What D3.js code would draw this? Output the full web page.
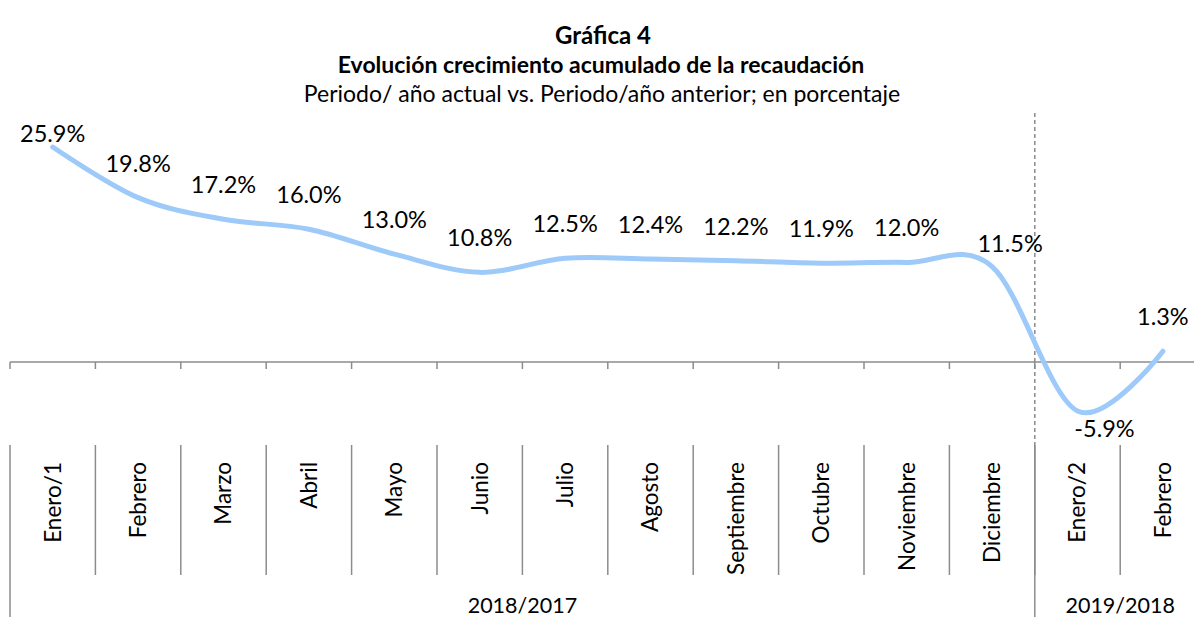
<!DOCTYPE html>
<html>
<head>
<meta charset="utf-8">
<script src="https://cdn.jsdelivr.net/npm/d3@7"></script>
<style>
  body { margin: 0; background: #fff; }
  svg text { font-family: Lato, "Open Sans", sans-serif; fill: #000; }
</style>
</head>
<body>
<div id="wrapper"></div>
<script>
// data
const months = ["Enero/1", "Febrero", "Marzo", "Abril", "Mayo", "Junio", "Julio",
  "Agosto", "Septiembre", "Octubre", "Noviembre", "Diciembre", "Enero/2", "Febrero"];
const growth = [25.9, 19.8, 17.2, 16.0, 13.0, 10.8, 12.5, 12.4, 12.2, 11.9, 12.0, 11.5, -5.9, 1.3];
const periods = ["2018/2017", "2019/2018"];
const periodSizes = [12, 2];
const titleLines = ["Gráfica 4", "Evolución crecimiento acumulado de la recaudación"];
const subtitle = "Periodo/ año actual vs. Periodo/año anterior; en porcentaje";

function drawChart() {
  // 1. dimensions
  const width = 1194;
  const height = 617;
  const step = 85.4;
  let dimensions = {
    left: 10,
    plotTop: 113,
    plotBottom: 445,
    labelTop: 462,
    tickBottom: 575,
  };

  const dataset = months.map((m, i) => ({ key: i, month: m, value: growth[i] }));

  // 2. canvas
  const svg = d3.select("#wrapper")
    .append("svg")
    .attr("width", width)
    .attr("height", height);

  // 3. scales
  const xScale = d3.scaleBand()
    .domain(dataset.map((d) => d.key))
    .range([dimensions.left, dimensions.left + step * months.length]);

  const yScale = d3.scaleLinear()
    .domain([-10, 30])
    .range([dimensions.plotBottom, dimensions.plotTop]);

  const xCenter = (d) => xScale(d.key) + xScale.bandwidth() / 2;

  // titles
  svg.append("text")
    .attr("x", width / 2 + 6).attr("y", 44)
    .attr("text-anchor", "middle")
    .style("font-size", "24px").style("font-weight", 700)
    .text(titleLines[0]);
  svg.append("text")
    .attr("x", width / 2 + 4).attr("y", 73)
    .attr("text-anchor", "middle")
    .style("font-size", "23px").style("font-weight", 700)
    .text(titleLines[1]);
  svg.append("text")
    .attr("x", width / 2 + 5).attr("y", 102)
    .attr("text-anchor", "middle")
    .style("font-size", "23px")
    .text(subtitle);

  // 4. axis at zero
  const axisColor = "#8c8c8c";
  const zeroY = yScale(0);
  const xAxis = d3.axisBottom(xScale).tickSize(0).tickFormat("");
  const axisG = svg.append("g")
    .attr("transform", `translate(0, ${zeroY})`)
    .call(xAxis);
  axisG.select(".domain")
    .attr("d", `M${dimensions.left},0H${width}`)
    .attr("stroke", axisColor)
    .attr("stroke-width", 1.5);

  const boundaries = d3.range(months.length + 1).map((i) => dimensions.left + i * step);

  svg.append("g")
    .selectAll("line")
    .data(boundaries.slice(0, -1))
    .join("line")
    .attr("x1", (d) => d).attr("x2", (d) => d)
    .attr("y1", zeroY).attr("y2", zeroY + 7)
    .attr("stroke", axisColor)
    .attr("stroke-width", 1.5);

  // category separators in the label area
  svg.append("g")
    .selectAll("line")
    .data(boundaries.slice(1, -1))
    .join("line")
    .attr("x1", (d) => d).attr("x2", (d) => d)
    .attr("y1", dimensions.plotBottom).attr("y2", dimensions.tickBottom)
    .attr("stroke", axisColor)
    .attr("stroke-width", 1.5);

  // group separators go down to the bottom
  let groupEdges = [0];
  periodSizes.forEach((n) => groupEdges.push(groupEdges[groupEdges.length - 1] + n));
  svg.append("g")
    .selectAll("line")
    .data(groupEdges.slice(0, -1))
    .join("line")
    .attr("x1", (i) => boundaries[i]).attr("x2", (i) => boundaries[i])
    .attr("y1", dimensions.plotBottom).attr("y2", height)
    .attr("stroke", axisColor)
    .attr("stroke-width", 1.5);

  // dashed year split
  const splitX = boundaries[periodSizes[0]];
  svg.append("line")
    .attr("x1", splitX).attr("x2", splitX)
    .attr("y1", dimensions.plotTop).attr("y2", dimensions.plotBottom)
    .attr("stroke", "#8a8a8a")
    .attr("stroke-width", 1.5)
    .attr("stroke-dasharray", "4,3");

  // month labels (vertical)
  svg.append("g")
    .selectAll("text")
    .data(dataset)
    .join("text")
    .attr("transform", (d) => `translate(${xCenter(d)}, ${dimensions.labelTop}) rotate(-90)`)
    .attr("text-anchor", "end")
    .attr("dy", "0.35em")
    .style("font-size", "22.5px")
    .text((d) => d.month);

  // period labels
  svg.append("g")
    .selectAll("text")
    .data(periods)
    .join("text")
    .attr("x", (p, i) => (boundaries[groupEdges[i]] + boundaries[groupEdges[i + 1]]) / 2)
    .attr("y", 613)
    .attr("text-anchor", "middle")
    .style("font-size", "21.5px")
    .text((p) => p);

  // 5. line
  const line = d3.line()
    .x(xCenter)
    .y((d) => yScale(d.value))
    .curve(d3.curveCardinal.tension(0));

  svg.append("path")
    .datum(dataset)
    .attr("d", line)
    .attr("fill", "none")
    .attr("stroke", "#9dcaf8")
    .attr("stroke-width", 5)
    .attr("stroke-linecap", "round");

  // 6. data labels
  const labelPos = (d, i) => {
    let x = xCenter(d);
    let y = yScale(d.value) - 26;
    if (i == 0) y = 142;
    if (i == 11) { x += 18; y = yScale(d.value) - 15; }
    if (d.value < 0) { x += 27; y = yScale(d.value) + 26; }
    return [x, y];
  };

  svg.append("g")
    .selectAll("text")
    .data(dataset)
    .join("text")
    .attr("x", (d, i) => labelPos(d, i)[0])
    .attr("y", (d, i) => labelPos(d, i)[1])
    .attr("text-anchor", "middle")
    .style("font-size", "23.5px")
    .text((d) => `${d.value.toFixed(1)}%`);
}
drawChart();
</script>
</body>
</html>
